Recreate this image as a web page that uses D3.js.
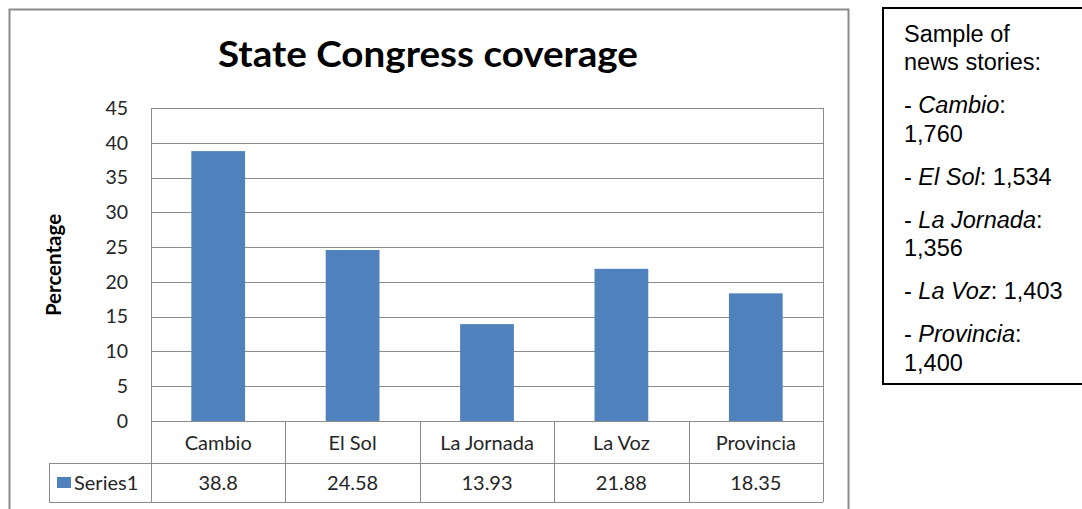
<!DOCTYPE html>
<html>
<head>
<meta charset="utf-8">
<script src="https://cdn.jsdelivr.net/npm/d3@7"></script>
<style>
  html, body { margin: 0; padding: 0; background: #fff; overflow: hidden; }
  svg { display: block; }
</style>
</head>
<body>
<svg id="chart" width="1082" height="509"></svg>
<script>
// Coverage share per newspaper (percent of stories)
const categories = ["Cambio", "El Sol", "La Jornada", "La Voz", "Provincia"];
const seriesName = "Series1";
const values = [38.8, 24.58, 13.93, 21.88, 18.35];
const yTicks = [0, 5, 10, 15, 20, 25, 30, 35, 40, 45];

// Sample size notes shown in the side box (null = paragraph gap)
const sampleLines = [
  [{t: "Sample of", i: false}],
  [{t: "news stories:", i: false}],
  null,
  [{t: "- ", i: false}, {t: "Cambio", i: true}, {t: ":", i: false}],
  [{t: "1,760", i: false}],
  null,
  [{t: "- ", i: false}, {t: "El Sol", i: true}, {t: ": 1,534", i: false}],
  null,
  [{t: "- ", i: false}, {t: "La Jornada", i: true}, {t: ":", i: false}],
  [{t: "1,356", i: false}],
  null,
  [{t: "- ", i: false}, {t: "La Voz", i: true}, {t: ": 1,403", i: false}],
  null,
  [{t: "- ", i: false}, {t: "Provincia", i: true}, {t: ":", i: false}],
  [{t: "1,400", i: false}]
];

const svg = d3.select("#chart");
const font = "Lato, 'Open Sans', sans-serif";
const textColor = "#262626";
const gridColor = "#8c8c8c";

// Chart frame
svg.append("rect")
  .attr("x", 9.5).attr("y", 9.5).attr("width", 839).attr("height", 510)
  .attr("fill", "#fff").attr("stroke", "#8a8a8a").attr("stroke-width", 2);

const plot = {left: 151, right: 823, top: 108, bottom: 421};
const tableRow1 = 463, tableRow2 = 502, tableLeft = 49;

const xCell = d3.scaleBand().domain(categories).range([plot.left, plot.right]);
const y = d3.scaleLinear().domain([0, 45]).range([plot.bottom, plot.top]);
const barWidth = xCell.bandwidth() * 0.4;

// Title
svg.append("text")
  .attr("x", 428).attr("y", 67)
  .attr("text-anchor", "middle")
  .attr("font-family", font).attr("font-weight", "bold").attr("font-size", 37)
  .attr("textLength", 420).attr("lengthAdjust", "spacingAndGlyphs")
  .attr("fill", "#000")
  .text("State Congress coverage");

// Gridlines
svg.append("g").selectAll("line").data(yTicks.filter(d => d > 0)).join("line")
  .attr("x1", plot.left).attr("x2", plot.right)
  .attr("y1", d => Math.round(y(d)) + 0.5).attr("y2", d => Math.round(y(d)) + 0.5)
  .attr("stroke", gridColor).attr("stroke-width", 1);

// Y axis with tick labels
const yAxis = d3.axisLeft(y).tickValues(yTicks).tickSize(0).tickPadding(23);
const gy = svg.append("g").attr("transform", `translate(${plot.left},0)`).call(yAxis);
gy.select(".domain").remove();
gy.selectAll("text")
  .attr("font-family", font).attr("font-size", 19.5).attr("fill", textColor);

// Y axis title
svg.append("text")
  .attr("transform", "translate(61,265) rotate(-90)")
  .attr("text-anchor", "middle")
  .attr("font-family", font).attr("font-weight", "bold").attr("font-size", 20.5)
  .attr("fill", "#000")
  .text("Percentage");

// Bars
svg.append("g").selectAll("rect").data(values).join("rect")
  .attr("x", (d, i) => xCell(categories[i]) + (xCell.bandwidth() - barWidth) / 2)
  .attr("width", barWidth)
  .attr("y", d => y(d))
  .attr("height", d => y(0) - y(d))
  .attr("fill", "#4f81bd");

// Data table lines
const tl = svg.append("g").attr("stroke", gridColor).attr("stroke-width", 1).attr("fill", "none");
tl.append("line").attr("x1", plot.left + 0.5).attr("x2", plot.left + 0.5).attr("y1", plot.top).attr("y2", tableRow2);
tl.append("line").attr("x1", plot.left).attr("x2", plot.right + 0.5).attr("y1", plot.top + 0.5).attr("y2", plot.top + 0.5);
tl.append("line").attr("x1", plot.right + 0.5).attr("x2", plot.right + 0.5).attr("y1", plot.top).attr("y2", tableRow2);
tl.append("line").attr("x1", plot.left).attr("x2", plot.right).attr("y1", plot.bottom + 0.5).attr("y2", plot.bottom + 0.5);
tl.append("line").attr("x1", tableLeft).attr("x2", plot.right).attr("y1", tableRow1 + 0.5).attr("y2", tableRow1 + 0.5);
tl.append("line").attr("x1", tableLeft).attr("x2", plot.right).attr("y1", tableRow2 + 0.5).attr("y2", tableRow2 + 0.5);
tl.append("line").attr("x1", tableLeft + 0.5).attr("x2", tableLeft + 0.5).attr("y1", tableRow1).attr("y2", tableRow2);
tl.selectAll(".sep").data(categories.slice(1)).join("line")
  .attr("x1", d => Math.round(xCell(d)) + 0.5).attr("x2", d => Math.round(xCell(d)) + 0.5)
  .attr("y1", plot.bottom).attr("y2", tableRow2);

// Category labels row
svg.append("g").selectAll("text").data(categories).join("text")
  .attr("x", d => xCell(d) + xCell.bandwidth() / 2)
  .attr("y", 450)
  .attr("text-anchor", "middle")
  .attr("font-family", font).attr("font-size", 20).attr("fill", textColor)
  .text(d => d);

// Values row
svg.append("g").selectAll("text").data(values).join("text")
  .attr("x", (d, i) => xCell(categories[i]) + xCell.bandwidth() / 2)
  .attr("y", 490)
  .attr("text-anchor", "middle")
  .attr("font-family", font).attr("font-size", 20).attr("fill", textColor)
  .text(d => d);

// Legend key in row header
svg.append("rect").attr("x", 57).attr("y", 477).attr("width", 14).attr("height", 11).attr("fill", "#4f81bd");
svg.append("text").attr("x", 74).attr("y", 490)
  .attr("font-family", font).attr("font-size", 20).attr("fill", textColor)
  .text(seriesName);

// Side note box (runs past the right edge)
svg.append("rect")
  .attr("x", 883).attr("y", 8).attr("width", 210).attr("height", 376)
  .attr("fill", "#fff").attr("stroke", "#000").attr("stroke-width", 2);

const noteFont = "'Liberation Sans', Arial, sans-serif";
let ly = 41.5;
const lineStep = 28.5, gapStep = 14.5;
const note = svg.append("g").attr("font-family", noteFont).attr("font-size", 23.5).attr("fill", "#000");
sampleLines.forEach(line => {
  if (line === null) { ly += gapStep; return; }
  const t = note.append("text").attr("x", 904).attr("y", ly);
  line.forEach(seg => {
    t.append("tspan").attr("font-style", seg.i ? "italic" : "normal").text(seg.t);
  });
  ly += lineStep;
});
</script>
</body>
</html>
